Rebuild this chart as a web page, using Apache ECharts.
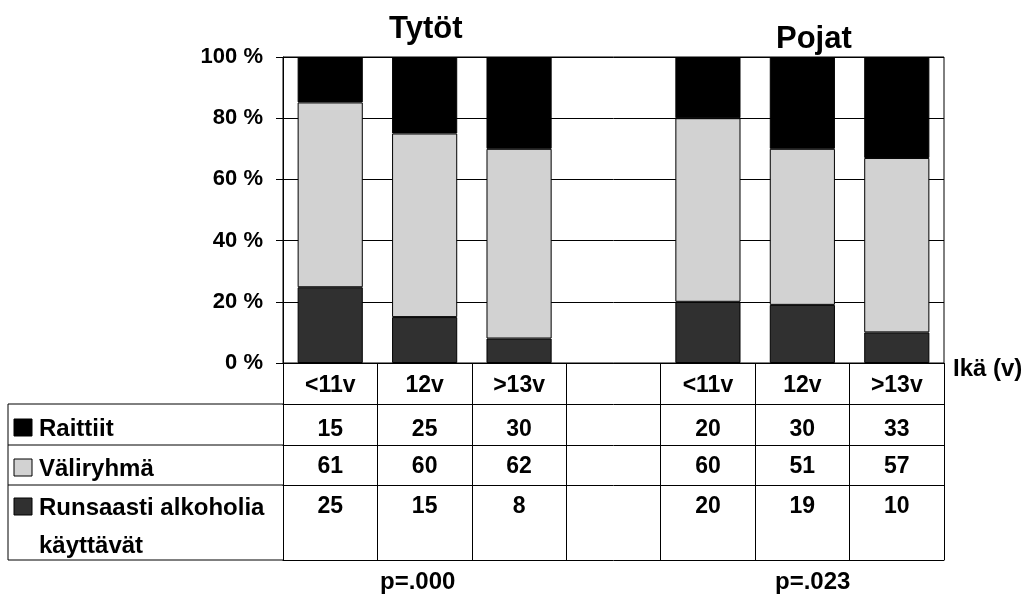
<!DOCTYPE html>
<html>
<head>
<meta charset="utf-8">
<script src="https://cdn.jsdelivr.net/npm/echarts@6/dist/echarts.min.js"></script>
<style>
  html, body { margin: 0; padding: 0; background: #fff; }
  #chart { width: 1030px; height: 598px; }
</style>
</head>
<body>
<div id="chart"></div>
<script>
// data (luettu kuvasta)
const ageGroups = ['<11v', '12v', '>13v', '', '<11v', '12v', '>13v']
const raittiit = [15, 25, 30, null, 20, 30, 33]
const valiryhma = [61, 60, 62, null, 60, 51, 57]
const runsaasti = [25, 15, 8, null, 20, 19, 10]
const rowNames = ['Raittiit', 'Väliryhmä', 'Runsaasti alkoholia\nkäyttävät']
const groupTitles = ['Tytöt', 'Pojat']
const pValues = ['p=.000', 'p=.023']

const font = 'Liberation Sans, Arial, sans-serif'
const txt = { fontFamily: font, fontWeight: 'bold', fontSize: 22, color: '#000' }
const tableTxt = Object.assign({}, txt, { fontSize: 23 })
const colors = ['#000000', '#d2d2d2', '#303030']

// pylväät 100 %:iin
function toPercent (arr) {
  return arr.map(function (v, i) {
    if (v == null) return null
    const total = raittiit[i] + valiryhma[i] + runsaasti[i]
    return v / total * 100
  })
}

// taulukon rivi = oma x-akseli offsetilla
function tableRow (values, offset, margin) {
  return {
    type: 'category',
    data: ageGroups,
    position: 'bottom',
    offset: offset,
    axisLine: { lineStyle: { color: '#000', width: 1 } },
    axisTick: { show: false },
    axisLabel: Object.assign({}, tableTxt, {
      interval: 0,
      margin: margin,
      verticalAlign: 'middle',
      formatter: function (v, i) { return values[i] == null ? '' : String(values[i]) }
    })
  }
}

const chart = echarts.init(document.getElementById('chart'), null, { renderer: 'canvas' })

const rowTops = [410, 450, 489]
const graphic = []
// taulukon vasen osa
;[404, 445, 485, 560].forEach(function (y) {
  graphic.push({ type: 'line', shape: { x1: 8, y1: y, x2: 283, y2: y }, style: { stroke: '#000', lineWidth: 1 } })
})
graphic.push({ type: 'line', shape: { x1: 8, y1: 404, x2: 8, y2: 560 }, style: { stroke: '#000', lineWidth: 1 } })
rowNames.forEach(function (name, i) {
  graphic.push({
    type: 'rect',
    shape: { x: 14, y: rowTops[i] + 9, width: 18, height: 17 },
    style: { fill: colors[i], stroke: '#000', lineWidth: 1 }
  })
  graphic.push({
    type: 'text',
    x: 39,
    y: rowTops[i],
    style: { fill: '#000', text: name, lineHeight: 38, verticalAlign: 'top', font: 'bold 24px ' + font }
  })
})

const option = {
  animation: false,
  backgroundColor: '#fff',
  title: [
    { text: groupTitles[0], left: 389, top: 14, padding: 0, textStyle: Object.assign({}, txt, { fontSize: 31 }) },
    { text: groupTitles[1], left: 776, top: 24, padding: 0, textStyle: Object.assign({}, txt, { fontSize: 31 }) },
    { text: pValues[0], left: 380, top: 570, padding: 0, textStyle: Object.assign({}, txt, { fontSize: 24 }) },
    { text: pValues[1], left: 775, top: 570, padding: 0, textStyle: Object.assign({}, txt, { fontSize: 24 }) }
  ],
  grid: {
    left: 283,
    right: 86,
    top: 57,
    bottom: 235,
    show: true,
    borderColor: '#000',
    borderWidth: 1
  },
  xAxis: [
    {
      type: 'category',
      data: ageGroups,
      position: 'bottom',
      axisLine: { lineStyle: { color: '#000', width: 1 } },
      axisTick: { show: true, interval: 0, length: 197, lineStyle: { color: '#000', width: 1 } },
      axisLabel: Object.assign({}, tableTxt, { interval: 0, margin: 23, verticalAlign: 'middle' }),
      name: 'Ikä (v)',
      nameLocation: 'end',
      nameGap: 9,
      nameTextStyle: Object.assign({}, txt, { fontSize: 24, verticalAlign: 'top', padding: [-6, 0, 0, 0] })
    },
    tableRow(raittiit, 41, 26),
    tableRow(valiryhma, 82, 22),
    tableRow(runsaasti, 122, 22),
    {
      type: 'category',
      data: ageGroups,
      position: 'bottom',
      offset: 197,
      axisLine: { lineStyle: { color: '#000', width: 1 } },
      axisTick: { show: false },
      axisLabel: { show: false }
    }
  ],
  yAxis: {
    type: 'value',
    min: 0,
    max: 100,
    interval: 20,
    axisLine: { show: true, lineStyle: { color: '#000', width: 1 } },
    axisTick: { show: true, length: 7, lineStyle: { color: '#000' } },
    splitLine: { show: true, lineStyle: { color: '#000', width: 1 } },
    axisLabel: Object.assign({}, txt, { margin: 20, formatter: '{value} %' })
  },
  graphic: graphic,
  series: [
    {
      name: rowNames[2],
      type: 'bar',
      stack: 'all',
      barCategoryGap: '31%',
      data: toPercent(runsaasti),
      itemStyle: { color: colors[2], borderColor: '#000', borderWidth: 1 }
    },
    {
      name: rowNames[1],
      type: 'bar',
      stack: 'all',
      barCategoryGap: '31%',
      data: toPercent(valiryhma),
      itemStyle: { color: colors[1], borderColor: '#000', borderWidth: 1 }
    },
    {
      name: rowNames[0],
      type: 'bar',
      stack: 'all',
      barCategoryGap: '31%',
      data: toPercent(raittiit),
      itemStyle: { color: colors[0], borderColor: '#000', borderWidth: 1 }
    }
  ]
}

chart.setOption(option)
</script>
</body>
</html>
